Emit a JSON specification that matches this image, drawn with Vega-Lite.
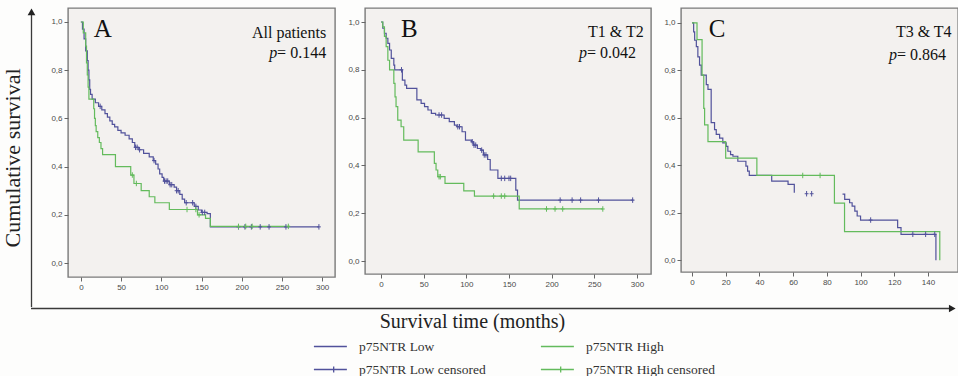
{
 "$schema": "https://vega.github.io/schema/vega-lite/v6.json",
 "background": "#fdfdfc",
 "padding": {"left": 1, "top": 7, "right": 0, "bottom": 0},
 "datasets": {
  "km": [
   {"p":"A","k":"p75NTR Low","t":0,"s":1},{"p":"A","k":"p75NTR Low","t":2,"s":0.97},{"p":"A","k":"p75NTR Low","t":4,"s":0.93},{"p":"A","k":"p75NTR Low","t":6,"s":0.88},{"p":"A","k":"p75NTR Low","t":8,"s":0.84},{"p":"A","k":"p75NTR Low","t":9,"s":0.8},{"p":"A","k":"p75NTR Low","t":10,"s":0.76},{"p":"A","k":"p75NTR Low","t":11,"s":0.72},{"p":"A","k":"p75NTR Low","t":12,"s":0.7},{"p":"A","k":"p75NTR Low","t":14,"s":0.68},{"p":"A","k":"p75NTR Low","t":18,"s":0.665},{"p":"A","k":"p75NTR Low","t":22,"s":0.65},{"p":"A","k":"p75NTR Low","t":26,"s":0.635},{"p":"A","k":"p75NTR Low","t":30,"s":0.62},{"p":"A","k":"p75NTR Low","t":33,"s":0.605},{"p":"A","k":"p75NTR Low","t":36,"s":0.59},{"p":"A","k":"p75NTR Low","t":39,"s":0.575},{"p":"A","k":"p75NTR Low","t":42,"s":0.565},{"p":"A","k":"p75NTR Low","t":46,"s":0.55},{"p":"A","k":"p75NTR Low","t":50,"s":0.54},{"p":"A","k":"p75NTR Low","t":55,"s":0.53},{"p":"A","k":"p75NTR Low","t":60,"s":0.515},{"p":"A","k":"p75NTR Low","t":64,"s":0.5},{"p":"A","k":"p75NTR Low","t":67,"s":0.48},{"p":"A","k":"p75NTR Low","t":72,"s":0.47},{"p":"A","k":"p75NTR Low","t":78,"s":0.455},{"p":"A","k":"p75NTR Low","t":85,"s":0.44},{"p":"A","k":"p75NTR Low","t":90,"s":0.425},{"p":"A","k":"p75NTR Low","t":93,"s":0.41},{"p":"A","k":"p75NTR Low","t":96,"s":0.39},{"p":"A","k":"p75NTR Low","t":98,"s":0.37},{"p":"A","k":"p75NTR Low","t":101,"s":0.355},{"p":"A","k":"p75NTR Low","t":103,"s":0.34},{"p":"A","k":"p75NTR Low","t":110,"s":0.325},{"p":"A","k":"p75NTR Low","t":116,"s":0.315},{"p":"A","k":"p75NTR Low","t":119,"s":0.3},{"p":"A","k":"p75NTR Low","t":123,"s":0.285},{"p":"A","k":"p75NTR Low","t":126,"s":0.265},{"p":"A","k":"p75NTR Low","t":129,"s":0.25},{"p":"A","k":"p75NTR Low","t":141,"s":0.235},{"p":"A","k":"p75NTR Low","t":146,"s":0.22},{"p":"A","k":"p75NTR Low","t":150,"s":0.21},{"p":"A","k":"p75NTR Low","t":157,"s":0.205},{"p":"A","k":"p75NTR Low","t":161,"s":0.15},{"p":"A","k":"p75NTR Low","t":296,"s":0.15},
   {"p":"A","k":"p75NTR Low censored","t":24,"s":0.65},{"p":"A","k":"p75NTR Low censored","t":68,"s":0.48},{"p":"A","k":"p75NTR Low censored","t":70,"s":0.48},{"p":"A","k":"p75NTR Low censored","t":73,"s":0.47},{"p":"A","k":"p75NTR Low censored","t":91,"s":0.425},{"p":"A","k":"p75NTR Low censored","t":104,"s":0.34},{"p":"A","k":"p75NTR Low censored","t":106,"s":0.34},{"p":"A","k":"p75NTR Low censored","t":108,"s":0.34},{"p":"A","k":"p75NTR Low censored","t":111,"s":0.325},{"p":"A","k":"p75NTR Low censored","t":113,"s":0.325},{"p":"A","k":"p75NTR Low censored","t":119,"s":0.3},{"p":"A","k":"p75NTR Low censored","t":121,"s":0.3},{"p":"A","k":"p75NTR Low censored","t":131,"s":0.25},{"p":"A","k":"p75NTR Low censored","t":139,"s":0.25},{"p":"A","k":"p75NTR Low censored","t":143,"s":0.235},{"p":"A","k":"p75NTR Low censored","t":151,"s":0.21},{"p":"A","k":"p75NTR Low censored","t":154,"s":0.21},{"p":"A","k":"p75NTR Low censored","t":196,"s":0.15},{"p":"A","k":"p75NTR Low censored","t":204,"s":0.15},{"p":"A","k":"p75NTR Low censored","t":212,"s":0.15},{"p":"A","k":"p75NTR Low censored","t":223,"s":0.15},{"p":"A","k":"p75NTR Low censored","t":234,"s":0.15},{"p":"A","k":"p75NTR Low censored","t":255,"s":0.15},{"p":"A","k":"p75NTR Low censored","t":296,"s":0.15},
   {"p":"A","k":"p75NTR High","t":0,"s":1},{"p":"A","k":"p75NTR High","t":3,"s":0.955},{"p":"A","k":"p75NTR High","t":6,"s":0.9},{"p":"A","k":"p75NTR High","t":7,"s":0.83},{"p":"A","k":"p75NTR High","t":8,"s":0.78},{"p":"A","k":"p75NTR High","t":9,"s":0.73},{"p":"A","k":"p75NTR High","t":10,"s":0.68},{"p":"A","k":"p75NTR High","t":16,"s":0.64},{"p":"A","k":"p75NTR High","t":17,"s":0.6},{"p":"A","k":"p75NTR High","t":18,"s":0.57},{"p":"A","k":"p75NTR High","t":19,"s":0.545},{"p":"A","k":"p75NTR High","t":21,"s":0.52},{"p":"A","k":"p75NTR High","t":23,"s":0.5},{"p":"A","k":"p75NTR High","t":25,"s":0.475},{"p":"A","k":"p75NTR High","t":27,"s":0.45},{"p":"A","k":"p75NTR High","t":43,"s":0.4},{"p":"A","k":"p75NTR High","t":62,"s":0.365},{"p":"A","k":"p75NTR High","t":66,"s":0.33},{"p":"A","k":"p75NTR High","t":75,"s":0.3},{"p":"A","k":"p75NTR High","t":85,"s":0.275},{"p":"A","k":"p75NTR High","t":92,"s":0.25},{"p":"A","k":"p75NTR High","t":110,"s":0.222},{"p":"A","k":"p75NTR High","t":145,"s":0.2},{"p":"A","k":"p75NTR High","t":155,"s":0.185},{"p":"A","k":"p75NTR High","t":161,"s":0.152},{"p":"A","k":"p75NTR High","t":260,"s":0.152},
   {"p":"A","k":"p75NTR High censored","t":64,"s":0.365},{"p":"A","k":"p75NTR High censored","t":69,"s":0.33},{"p":"A","k":"p75NTR High censored","t":132,"s":0.222},{"p":"A","k":"p75NTR High censored","t":143,"s":0.222},{"p":"A","k":"p75NTR High censored","t":147,"s":0.2},{"p":"A","k":"p75NTR High censored","t":196,"s":0.152},{"p":"A","k":"p75NTR High censored","t":205,"s":0.152},{"p":"A","k":"p75NTR High censored","t":213,"s":0.152},{"p":"A","k":"p75NTR High censored","t":258,"s":0.152},
   {"p":"B","k":"p75NTR Low","t":0,"s":1},{"p":"B","k":"p75NTR Low","t":2,"s":0.974},{"p":"B","k":"p75NTR Low","t":4,"s":0.953},{"p":"B","k":"p75NTR Low","t":6,"s":0.932},{"p":"B","k":"p75NTR Low","t":8,"s":0.911},{"p":"B","k":"p75NTR Low","t":10,"s":0.883},{"p":"B","k":"p75NTR Low","t":12,"s":0.848},{"p":"B","k":"p75NTR Low","t":15,"s":0.82},{"p":"B","k":"p75NTR Low","t":16,"s":0.8},{"p":"B","k":"p75NTR Low","t":25,"s":0.757},{"p":"B","k":"p75NTR Low","t":28,"s":0.736},{"p":"B","k":"p75NTR Low","t":30,"s":0.722},{"p":"B","k":"p75NTR Low","t":42,"s":0.674},{"p":"B","k":"p75NTR Low","t":47,"s":0.66},{"p":"B","k":"p75NTR Low","t":51,"s":0.646},{"p":"B","k":"p75NTR Low","t":55,"s":0.632},{"p":"B","k":"p75NTR Low","t":59,"s":0.618},{"p":"B","k":"p75NTR Low","t":64,"s":0.611},{"p":"B","k":"p75NTR Low","t":74,"s":0.597},{"p":"B","k":"p75NTR Low","t":80,"s":0.583},{"p":"B","k":"p75NTR Low","t":86,"s":0.569},{"p":"B","k":"p75NTR Low","t":89,"s":0.562},{"p":"B","k":"p75NTR Low","t":95,"s":0.541},{"p":"B","k":"p75NTR Low","t":99,"s":0.506},{"p":"B","k":"p75NTR Low","t":106,"s":0.499},{"p":"B","k":"p75NTR Low","t":108.5,"s":0.485},{"p":"B","k":"p75NTR Low","t":113,"s":0.471},{"p":"B","k":"p75NTR Low","t":117,"s":0.464},{"p":"B","k":"p75NTR Low","t":120,"s":0.444},{"p":"B","k":"p75NTR Low","t":125,"s":0.425},{"p":"B","k":"p75NTR Low","t":128,"s":0.381},{"p":"B","k":"p75NTR Low","t":137,"s":0.346},{"p":"B","k":"p75NTR Low","t":158,"s":0.297},{"p":"B","k":"p75NTR Low","t":160,"s":0.255},{"p":"B","k":"p75NTR Low","t":296,"s":0.255},
   {"p":"B","k":"p75NTR Low censored","t":24,"s":0.8},{"p":"B","k":"p75NTR Low censored","t":68,"s":0.611},{"p":"B","k":"p75NTR Low censored","t":71,"s":0.611},{"p":"B","k":"p75NTR Low censored","t":90,"s":0.562},{"p":"B","k":"p75NTR Low censored","t":92,"s":0.562},{"p":"B","k":"p75NTR Low censored","t":107,"s":0.499},{"p":"B","k":"p75NTR Low censored","t":109,"s":0.485},{"p":"B","k":"p75NTR Low censored","t":111,"s":0.485},{"p":"B","k":"p75NTR Low censored","t":118,"s":0.464},{"p":"B","k":"p75NTR Low censored","t":121,"s":0.444},{"p":"B","k":"p75NTR Low censored","t":123,"s":0.444},{"p":"B","k":"p75NTR Low censored","t":141,"s":0.346},{"p":"B","k":"p75NTR Low censored","t":145,"s":0.346},{"p":"B","k":"p75NTR Low censored","t":150,"s":0.346},{"p":"B","k":"p75NTR Low censored","t":152,"s":0.346},{"p":"B","k":"p75NTR Low censored","t":210,"s":0.255},{"p":"B","k":"p75NTR Low censored","t":224,"s":0.255},{"p":"B","k":"p75NTR Low censored","t":234,"s":0.255},{"p":"B","k":"p75NTR Low censored","t":255,"s":0.255},{"p":"B","k":"p75NTR Low censored","t":295,"s":0.255},
   {"p":"B","k":"p75NTR High","t":0,"s":1},{"p":"B","k":"p75NTR High","t":2,"s":0.98},{"p":"B","k":"p75NTR High","t":4,"s":0.94},{"p":"B","k":"p75NTR High","t":6,"s":0.897},{"p":"B","k":"p75NTR High","t":8,"s":0.84},{"p":"B","k":"p75NTR High","t":10,"s":0.8},{"p":"B","k":"p75NTR High","t":15,"s":0.743},{"p":"B","k":"p75NTR High","t":16.4,"s":0.687},{"p":"B","k":"p75NTR High","t":17.6,"s":0.646},{"p":"B","k":"p75NTR High","t":19.6,"s":0.59},{"p":"B","k":"p75NTR High","t":23.5,"s":0.562},{"p":"B","k":"p75NTR High","t":26.6,"s":0.506},{"p":"B","k":"p75NTR High","t":43.5,"s":0.457},{"p":"B","k":"p75NTR High","t":62.5,"s":0.409},{"p":"B","k":"p75NTR High","t":64.5,"s":0.381},{"p":"B","k":"p75NTR High","t":66.5,"s":0.353},{"p":"B","k":"p75NTR High","t":75,"s":0.325},{"p":"B","k":"p75NTR High","t":97,"s":0.294},{"p":"B","k":"p75NTR High","t":109.5,"s":0.272},{"p":"B","k":"p75NTR High","t":162,"s":0.218},{"p":"B","k":"p75NTR High","t":260,"s":0.218},
   {"p":"B","k":"p75NTR High censored","t":68,"s":0.353},{"p":"B","k":"p75NTR High censored","t":69.5,"s":0.353},{"p":"B","k":"p75NTR High censored","t":132,"s":0.272},{"p":"B","k":"p75NTR High censored","t":141,"s":0.272},{"p":"B","k":"p75NTR High censored","t":145,"s":0.272},{"p":"B","k":"p75NTR High censored","t":194,"s":0.218},{"p":"B","k":"p75NTR High censored","t":204,"s":0.218},{"p":"B","k":"p75NTR High censored","t":213,"s":0.218},{"p":"B","k":"p75NTR High censored","t":260,"s":0.218},
   {"p":"C","k":"p75NTR Low","seg":1,"t":0,"s":1},{"p":"C","k":"p75NTR Low","seg":1,"t":1,"s":0.962},{"p":"C","k":"p75NTR Low","seg":1,"t":1.6,"s":0.927},{"p":"C","k":"p75NTR Low","seg":1,"t":2.6,"s":0.9},{"p":"C","k":"p75NTR Low","seg":1,"t":3.5,"s":0.857},{"p":"C","k":"p75NTR Low","seg":1,"t":4.5,"s":0.822},{"p":"C","k":"p75NTR Low","seg":1,"t":5.5,"s":0.78},{"p":"C","k":"p75NTR Low","seg":1,"t":8.5,"s":0.74},{"p":"C","k":"p75NTR Low","seg":1,"t":9.5,"s":0.72},{"p":"C","k":"p75NTR Low","seg":1,"t":11.4,"s":0.58},{"p":"C","k":"p75NTR Low","seg":1,"t":13.4,"s":0.55},{"p":"C","k":"p75NTR Low","seg":1,"t":14.4,"s":0.53},{"p":"C","k":"p75NTR Low","seg":1,"t":16.4,"s":0.514},{"p":"C","k":"p75NTR Low","seg":1,"t":18.3,"s":0.494},{"p":"C","k":"p75NTR Low","seg":1,"t":20.3,"s":0.48},{"p":"C","k":"p75NTR Low","seg":1,"t":21.3,"s":0.459},{"p":"C","k":"p75NTR Low","seg":1,"t":22.9,"s":0.445},{"p":"C","k":"p75NTR Low","seg":1,"t":24.3,"s":0.438},{"p":"C","k":"p75NTR Low","seg":1,"t":27.2,"s":0.417},{"p":"C","k":"p75NTR Low","seg":1,"t":32,"s":0.396},{"p":"C","k":"p75NTR Low","seg":1,"t":33,"s":0.375},{"p":"C","k":"p75NTR Low","seg":1,"t":34,"s":0.357},{"p":"C","k":"p75NTR Low","seg":1,"t":47.3,"s":0.333},{"p":"C","k":"p75NTR Low","seg":1,"t":57,"s":0.319},{"p":"C","k":"p75NTR Low","seg":1,"t":60.7,"s":0.284},
   {"p":"C","k":"p75NTR Low","seg":2,"t":89.3,"s":0.278},{"p":"C","k":"p75NTR Low","seg":2,"t":90.6,"s":0.256},{"p":"C","k":"p75NTR Low","seg":2,"t":93.5,"s":0.242},{"p":"C","k":"p75NTR Low","seg":2,"t":95,"s":0.228},{"p":"C","k":"p75NTR Low","seg":2,"t":96.6,"s":0.207},{"p":"C","k":"p75NTR Low","seg":2,"t":98,"s":0.186},{"p":"C","k":"p75NTR Low","seg":2,"t":100,"s":0.169},{"p":"C","k":"p75NTR Low","seg":2,"t":122,"s":0.137},{"p":"C","k":"p75NTR Low","seg":2,"t":124,"s":0.109},{"p":"C","k":"p75NTR Low","seg":2,"t":144.7,"s":0},
   {"p":"C","k":"p75NTR Low censored","t":68,"s":0.28},{"p":"C","k":"p75NTR Low censored","t":71,"s":0.28},{"p":"C","k":"p75NTR Low censored","t":106,"s":0.169},{"p":"C","k":"p75NTR Low censored","t":131,"s":0.109},{"p":"C","k":"p75NTR Low censored","t":138.6,"s":0.109},{"p":"C","k":"p75NTR Low censored","t":144,"s":0.109},
   {"p":"C","k":"p75NTR High","t":0,"s":1},{"p":"C","k":"p75NTR High","t":3,"s":0.93},{"p":"C","k":"p75NTR High","t":6,"s":0.78},{"p":"C","k":"p75NTR High","t":7,"s":0.64},{"p":"C","k":"p75NTR High","t":7.5,"s":0.57},{"p":"C","k":"p75NTR High","t":9.5,"s":0.5},{"p":"C","k":"p75NTR High","t":20,"s":0.43},{"p":"C","k":"p75NTR High","t":38.5,"s":0.357},{"p":"C","k":"p75NTR High","t":84.5,"s":0.24},{"p":"C","k":"p75NTR High","t":90.5,"s":0.12},{"p":"C","k":"p75NTR High","t":147,"s":0},
   {"p":"C","k":"p75NTR High censored","t":65.7,"s":0.357},{"p":"C","k":"p75NTR High censored","t":76,"s":0.357}
  ]
 },
 "vconcat": [
  {
   "hconcat": [
    {
     "width": 1,
     "height": 299,
     "view": {"stroke": null, "fill": null},
     "data": {"values": [{}]},
     "layer": [
      {
       "mark": {"type": "rule", "color": "#3a3a3a", "strokeWidth": 1.3},
       "encoding": {
        "y": {"datum": 0, "type": "quantitative", "scale": {"domain": [0, 100], "nice": false, "zero": false},
              "axis": {"title": "Cumulative survival", "labels": false, "ticks": false, "domain": false, "titleFont": "Liberation Serif", "titleFontSize": 22, "titleFontWeight": "normal", "titleColor": "#222222", "titlePadding": 7}},
        "y2": {"datum": 98.7}
       }
      },
      {
       "mark": {"type": "point", "shape": "triangle-up", "filled": true, "size": 60, "color": "#222222", "opacity": 1},
       "encoding": {"y": {"datum": 98.7, "type": "quantitative"}}
      }
     ]
    },
    {
     "hconcat": [
      {
       "width": 267,
       "height": 269,
       "layer": [
        {
         "data": {"name": "km"},
         "transform": [{"filter": {"field": "p", "equal": "A"}}, {"filter": {"field": "k", "oneOf": ["p75NTR Low", "p75NTR High"]}}],
         "mark": {"type": "line", "interpolate": "step-after", "strokeWidth": 1.2},
         "encoding": {
          "x": {"field": "t", "type": "quantitative", "scale": {"domain": [-16, 316], "nice": false, "zero": false}, "axis": {"values": [0, 50, 100, 150, 200, 250, 300], "format": "d", "title": null}},
          "y": {"field": "s", "type": "quantitative", "scale": {"domain": [-0.058, 1.058], "nice": false, "zero": false}, "axis": {"values": [0, 0.2, 0.4, 0.6, 0.8, 1], "labelExpr": "replace(format(datum.value, '.1f'), '.', ',')", "title": null}},
          "color": {"field": "k", "type": "nominal", "scale": {"domain": ["p75NTR Low", "p75NTR Low censored", "p75NTR High", "p75NTR High censored"], "range": ["#51529b", "#51529b", "#63bb5c", "#63bb5c"]},
                    "legend": {"title": null, "orient": "none", "legendX": 282, "legendY": 331, "columns": 2, "encode": {"symbols": {"update": {"shape": {"signal": "indexof(datum.value, 'censored') >= 0 ? 'M-1,0L4,0M2,-0.45L2,0.45' : 'M-1,0L4,0'"}, "fill": {"value": "transparent"}}}}}},
          "detail": {"field": "seg", "type": "nominal"}
         }
        },
        {
         "data": {"name": "km"},
         "transform": [{"filter": {"field": "p", "equal": "A"}}, {"filter": {"field": "k", "oneOf": ["p75NTR Low censored", "p75NTR High censored"]}}],
         "mark": {"type": "point", "shape": "M0,-1L0,1M-0.7,0L0.7,0", "size": 30, "filled": false, "strokeWidth": 1, "opacity": 1},
         "encoding": {"x": {"field": "t", "type": "quantitative"}, "y": {"field": "s", "type": "quantitative"}, "color": {"field": "k", "type": "nominal"}}
        },
        {"data": {"values": [{"lab": "A"}]}, "mark": {"type": "text", "align": "left", "baseline": "alphabetic", "font": "Liberation Serif", "fontSize": 25, "color": "#111111"}, "encoding": {"x": {"datum": 16, "type": "quantitative"}, "y": {"datum": 0.938, "type": "quantitative"}, "text": {"field": "lab", "type": "nominal"}}},
        {"data": {"values": [{"lab": "All patients"}]}, "mark": {"type": "text", "align": "right", "baseline": "alphabetic", "font": "Liberation Serif", "fontSize": 16, "color": "#111111"}, "encoding": {"x": {"datum": 305, "type": "quantitative"}, "y": {"datum": 0.935, "type": "quantitative"}, "text": {"field": "lab", "type": "nominal"}}},
        {"data": {"values": [{"lab": "= 0.144"}]}, "mark": {"type": "text", "align": "right", "baseline": "alphabetic", "font": "Liberation Serif", "fontSize": 16, "color": "#111111"}, "encoding": {"x": {"datum": 305, "type": "quantitative"}, "y": {"datum": 0.849, "type": "quantitative"}, "text": {"field": "lab", "type": "nominal"}}},
        {"data": {"values": [{"lab": "p"}]}, "mark": {"type": "text", "align": "right", "baseline": "alphabetic", "font": "Liberation Serif", "fontSize": 16, "fontStyle": "italic", "dx": -49, "color": "#111111"}, "encoding": {"x": {"datum": 305, "type": "quantitative"}, "y": {"datum": 0.849, "type": "quantitative"}, "text": {"field": "lab", "type": "nominal"}}}
       ]
      },
      {
       "width": 286,
       "height": 266,
       "layer": [
        {
         "data": {"name": "km"},
         "transform": [{"filter": {"field": "p", "equal": "B"}}, {"filter": {"field": "k", "oneOf": ["p75NTR Low", "p75NTR High"]}}],
         "mark": {"type": "line", "interpolate": "step-after", "strokeWidth": 1.2},
         "encoding": {
          "x": {"field": "t", "type": "quantitative", "scale": {"domain": [-18.8, 316.5], "nice": false, "zero": false}, "axis": {"values": [0, 50, 100, 150, 200, 250, 300], "format": "d", "title": null}},
          "y": {"field": "s", "type": "quantitative", "scale": {"domain": [-0.054, 1.0586], "nice": false, "zero": false}, "axis": {"values": [0, 0.2, 0.4, 0.6, 0.8, 1], "labelExpr": "replace(format(datum.value, '.1f'), '.', ',')", "title": null}},
          "color": {"field": "k", "type": "nominal", "scale": {"domain": ["p75NTR Low", "p75NTR Low censored", "p75NTR High", "p75NTR High censored"], "range": ["#51529b", "#51529b", "#63bb5c", "#63bb5c"]},
                    "legend": {"title": null, "orient": "none", "legendX": 282, "legendY": 331, "columns": 2, "encode": {"symbols": {"update": {"shape": {"signal": "indexof(datum.value, 'censored') >= 0 ? 'M-1,0L4,0M2,-0.45L2,0.45' : 'M-1,0L4,0'"}, "fill": {"value": "transparent"}}}}}},
          "detail": {"field": "seg", "type": "nominal"}
         }
        },
        {
         "data": {"name": "km"},
         "transform": [{"filter": {"field": "p", "equal": "B"}}, {"filter": {"field": "k", "oneOf": ["p75NTR Low censored", "p75NTR High censored"]}}],
         "mark": {"type": "point", "shape": "M0,-1L0,1M-0.7,0L0.7,0", "size": 30, "filled": false, "strokeWidth": 1, "opacity": 1},
         "encoding": {"x": {"field": "t", "type": "quantitative"}, "y": {"field": "s", "type": "quantitative"}, "color": {"field": "k", "type": "nominal"}}
        },
        {"data": {"values": [{"lab": "B"}]}, "mark": {"type": "text", "align": "left", "baseline": "alphabetic", "font": "Liberation Serif", "fontSize": 25, "color": "#111111"}, "encoding": {"x": {"datum": 23.4, "type": "quantitative"}, "y": {"datum": 0.938, "type": "quantitative"}, "text": {"field": "lab", "type": "nominal"}}},
        {"data": {"values": [{"lab": "T1 & T2"}]}, "mark": {"type": "text", "align": "right", "baseline": "alphabetic", "font": "Liberation Serif", "fontSize": 16, "color": "#111111"}, "encoding": {"x": {"datum": 308, "type": "quantitative"}, "y": {"datum": 0.938, "type": "quantitative"}, "text": {"field": "lab", "type": "nominal"}}},
        {"data": {"values": [{"lab": "= 0.042"}]}, "mark": {"type": "text", "align": "right", "baseline": "alphabetic", "font": "Liberation Serif", "fontSize": 16, "color": "#111111"}, "encoding": {"x": {"datum": 299, "type": "quantitative"}, "y": {"datum": 0.848, "type": "quantitative"}, "text": {"field": "lab", "type": "nominal"}}},
        {"data": {"values": [{"lab": "p"}]}, "mark": {"type": "text", "align": "right", "baseline": "alphabetic", "font": "Liberation Serif", "fontSize": 16, "fontStyle": "italic", "dx": -49, "color": "#111111"}, "encoding": {"x": {"datum": 299, "type": "quantitative"}, "y": {"datum": 0.848, "type": "quantitative"}, "text": {"field": "lab", "type": "nominal"}}}
       ]
      },
      {
       "width": 277,
       "height": 264,
       "layer": [
        {
         "data": {"name": "km"},
         "transform": [{"filter": {"field": "p", "equal": "C"}}, {"filter": {"field": "k", "oneOf": ["p75NTR Low", "p75NTR High"]}}],
         "mark": {"type": "line", "interpolate": "step-after", "strokeWidth": 1.2},
         "encoding": {
          "x": {"field": "t", "type": "quantitative", "scale": {"domain": [-6.5, 157.8], "nice": false, "zero": false}, "axis": {"values": [0, 20, 40, 60, 80, 100, 120, 140], "format": "d", "title": null, "labelOverlap": false}},
          "y": {"field": "s", "type": "quantitative", "scale": {"domain": [-0.05, 1.063], "nice": false, "zero": false}, "axis": {"values": [0, 0.2, 0.4, 0.6, 0.8, 1], "labelExpr": "replace(format(datum.value, '.1f'), '.', ',')", "title": null}},
          "color": {"field": "k", "type": "nominal", "scale": {"domain": ["p75NTR Low", "p75NTR Low censored", "p75NTR High", "p75NTR High censored"], "range": ["#51529b", "#51529b", "#63bb5c", "#63bb5c"]},
                    "legend": {"title": null, "orient": "none", "legendX": 282, "legendY": 331, "columns": 2, "encode": {"symbols": {"update": {"shape": {"signal": "indexof(datum.value, 'censored') >= 0 ? 'M-1,0L4,0M2,-0.45L2,0.45' : 'M-1,0L4,0'"}, "fill": {"value": "transparent"}}}}}},
          "detail": {"field": "seg", "type": "nominal"}
         }
        },
        {
         "data": {"name": "km"},
         "transform": [{"filter": {"field": "p", "equal": "C"}}, {"filter": {"field": "k", "oneOf": ["p75NTR Low censored", "p75NTR High censored"]}}],
         "mark": {"type": "point", "shape": "M0,-1L0,1M-0.7,0L0.7,0", "size": 30, "filled": false, "strokeWidth": 1, "opacity": 1},
         "encoding": {"x": {"field": "t", "type": "quantitative", "axis": {"values": [0, 20, 40, 60, 80, 100, 120, 140], "format": "d", "title": null, "labelOverlap": false}}, "y": {"field": "s", "type": "quantitative"}, "color": {"field": "k", "type": "nominal"}}
        },
        {"data": {"values": [{"lab": "C"}]}, "mark": {"type": "text", "align": "left", "baseline": "alphabetic", "font": "Liberation Serif", "fontSize": 25, "color": "#111111"}, "encoding": {"x": {"datum": 10, "type": "quantitative", "axis": {"values": [0, 20, 40, 60, 80, 100, 120, 140], "format": "d", "title": null, "labelOverlap": false}}, "y": {"datum": 0.94, "type": "quantitative"}, "text": {"field": "lab", "type": "nominal"}}},
        {"data": {"values": [{"lab": "T3 & T4"}]}, "mark": {"type": "text", "align": "right", "baseline": "alphabetic", "font": "Liberation Serif", "fontSize": 16, "color": "#111111"}, "encoding": {"x": {"datum": 154, "type": "quantitative", "axis": {"values": [0, 20, 40, 60, 80, 100, 120, 140], "format": "d", "title": null, "labelOverlap": false}}, "y": {"datum": 0.94, "type": "quantitative"}, "text": {"field": "lab", "type": "nominal"}}},
        {"data": {"values": [{"lab": "= 0.864"}]}, "mark": {"type": "text", "align": "right", "baseline": "alphabetic", "font": "Liberation Serif", "fontSize": 16, "color": "#111111"}, "encoding": {"x": {"datum": 150.7, "type": "quantitative", "axis": {"values": [0, 20, 40, 60, 80, 100, 120, 140], "format": "d", "title": null, "labelOverlap": false}}, "y": {"datum": 0.845, "type": "quantitative"}, "text": {"field": "lab", "type": "nominal"}}},
        {"data": {"values": [{"lab": "p"}]}, "mark": {"type": "text", "align": "right", "baseline": "alphabetic", "font": "Liberation Serif", "fontSize": 16, "fontStyle": "italic", "dx": -49, "color": "#111111"}, "encoding": {"x": {"datum": 150.7, "type": "quantitative", "axis": {"values": [0, 20, 40, 60, 80, 100, 120, 140], "format": "d", "title": null, "labelOverlap": false}}, "y": {"datum": 0.845, "type": "quantitative"}, "text": {"field": "lab", "type": "nominal"}}}
       ]
      }
     ],
     "spacing": 30,
     "bounds": "flush"
    }
   ],
   "spacing": 36,
   "bounds": "flush"
  },
  {
   "width": 925,
   "height": 1,
   "view": {"stroke": null, "fill": null},
   "data": {"values": [{}]},
   "layer": [
    {
     "mark": {"type": "rule", "color": "#3a3a3a", "strokeWidth": 1.3},
     "encoding": {
      "x": {"datum": 0, "type": "quantitative", "scale": {"domain": [0, 100], "nice": false, "zero": false},
            "axis": {"title": "Survival time (months)", "labels": false, "ticks": false, "domain": false, "titleFont": "Liberation Serif", "titleFontSize": 20, "titleFontWeight": "normal", "titleColor": "#222222", "titlePadding": 2, "titleX": 441}},
      "x2": {"datum": 99.6}
     }
    },
    {
     "mark": {"type": "point", "shape": "triangle-right", "filled": true, "size": 60, "color": "#222222", "opacity": 1},
     "encoding": {"x": {"datum": 99.6, "type": "quantitative"}}
    }
   ]
  }
 ],
 "spacing": -7,
 "config": {
  "view": {"stroke": "#7a7a7a", "strokeWidth": 1.4, "fill": "#f3f1ef"},
  "axis": {"grid": false, "domain": false, "labelFont": "Liberation Sans", "labelFontSize": 8, "labelColor": "#4a4a4a", "tickColor": "#666666", "tickSize": 4, "labelPadding": 2, "labelOverlap": false},
  "legend": {"columnPadding": 52, "rowPadding": 9, "symbolSize": 174, "symbolStrokeWidth": 1.3, "labelFont": "Liberation Serif", "labelFontSize": 13.5, "labelColor": "#333333", "labelOffset": 31}
 }
}
